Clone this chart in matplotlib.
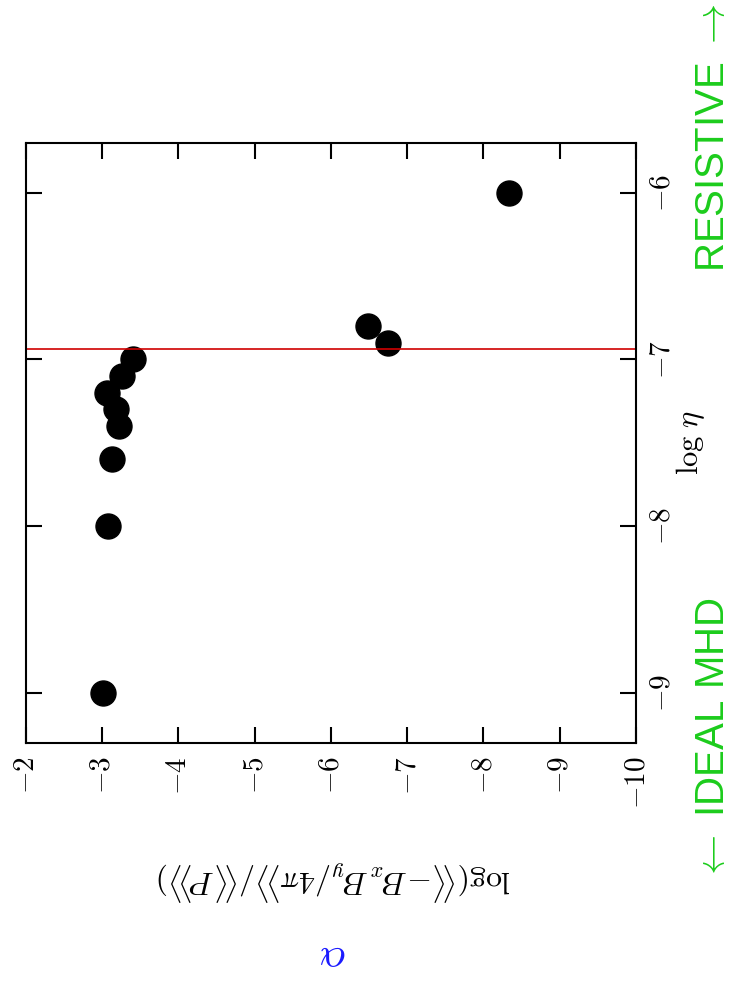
import numpy as np
import matplotlib.pyplot as plt

plt.rcParams['mathtext.fontset'] = 'cm'
plt.rcParams['font.family'] = 'serif'

log_eta = [-6.0, -6.8, -6.9, -7.0, -7.1, -7.2, -7.3, -7.4, -7.6, -8.0, -9.0]
log_stress = [-8.33, -6.49, -6.75, -3.41, -3.26, -3.07, -3.19, -3.22, -3.13, -3.08, -3.02]
eta_crit = -6.94

stress_ticks = [-2, -3, -4, -5, -6, -7, -8, -9, -10]
eta_ticks = [-6, -7, -8, -9]

fig = plt.figure(figsize=(7.38, 9.81), dpi=100)
ax = fig.add_axes([0.0348, 0.2431, 0.827, 0.6114])

ax.plot(log_stress, log_eta, 'o', color='black', markersize=18)
ax.axhline(eta_crit, color='#d00000', lw=1.2)

ax.set_xlim(-2, -10)
ax.set_ylim(-9.3, -5.7)

ax.set_xticks(stress_ticks, labels=[f'${t}$' for t in stress_ticks])
ax.set_yticks(eta_ticks, labels=[f'${t}$' for t in eta_ticks])
ax.tick_params(direction='in', length=11.5, width=1.5, top=True, right=True,
               bottom=True, left=True, labelsize=21)
ax.tick_params(axis='x', labelrotation=90, pad=10)
ax.tick_params(axis='y', labelleft=False, labelright=True, labelrotation=90, pad=8)
for lab in ax.get_yticklabels():
    lab.set_va('center')
for sp in ax.spines.values():
    sp.set_linewidth(1.5)

# axis labels (whole figure is turned on its side)
ax.set_xlabel(r'$\log(\langle\!\langle {-}B_xB_y/4\pi\rangle\!\rangle/\langle\!\langle P\rangle\!\rangle)$',
              fontsize=23, rotation=180, va='center')
ax.xaxis.set_label_coords(0.505, -0.23)
ax.yaxis.set_label_position('right')
ax.set_ylabel(r'$\log\,\eta$', fontsize=22, rotation=90, va='center')
ax.yaxis.set_label_coords(1.09, 0.5)

green = '#1ccc1c'
fig.text(713 / 738, 1 - 272 / 981, r'RESISTIVE $\rightarrow$', rotation=90, ha='center', va='bottom',
         color=green, fontsize=29, family=['Liberation Sans', 'DejaVu Sans'])
fig.text(713 / 738, 1 - 882 / 981, r'$\leftarrow$ IDEAL MHD', rotation=90, ha='center', va='bottom',
         color=green, fontsize=29, family=['Liberation Sans', 'DejaVu Sans'])
fig.text(333 / 738, 1 - 958 / 981, r'$\alpha$', rotation=180, ha='center', va='center',
         color='#1a1aff', fontsize=30)

fig.savefig('out.png', dpi=100)
